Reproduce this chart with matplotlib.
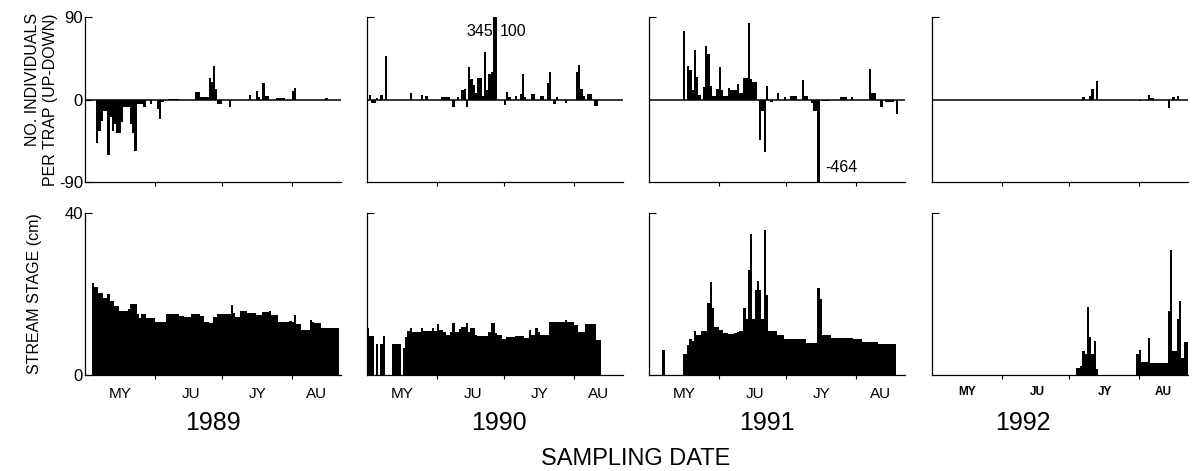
import numpy as np
import matplotlib
matplotlib.use("Agg")
import matplotlib.pyplot as plt

plt.rcParams['font.family'] = ['Liberation Sans', 'DejaVu Sans']
plt.rcParams['axes.unicode_minus'] = False

# --- x axis: days after 1 May ---
YEARS = ['1989', '1990', '1991', '1992']
MONTHS = ['MY', 'JU', 'JY', 'AU']
MONTH_STARTS = [31, 61, 92]          # 1 Jun, 1 Jul, 1 Aug
MONTH_MIDS = [15.5, 47, 77, 103]

# --- up-down trap counts (day, value); zero days left out ---
up89_days = [5, 6, 7, 8, 9, 10, 11, 12, 13, 14, 15, 16, 17, 18, 19, 20, 21, 22, 23, 24, 25, 26,
             29, 32, 33, 34, 37, 38, 39, 40, 41, 49, 50, 51, 52, 53, 54, 55, 56, 57, 58, 59, 60,
             64, 73, 76, 77, 79, 80, 81, 85, 86, 87, 88, 92, 93, 107]
up89_vals = [-47, -34, -23, -12, -12, -61, -19, -34, -27, -36, -36, -25, -8, -8, -8, -27, -36, -56, -5, -5, -5, -8,
             -5, -10, -21, -3, 1, 1, 1, 1, 1, 8, 8, 3, 3, 3, 3, 24, 19, 37, 11, -5, -5,
             -8, 5, 9, 3, 18, 4, 4, 2, 2, 2, 2, 9, 13, 2]

up90_days = [1, 2, 3, 4, 6, 8, 19, 24, 26, 33, 34, 35, 36, 38, 40, 42, 43, 44, 45, 46, 47, 48, 49, 50,
             51, 52, 53, 54, 55, 56, 57, 61, 62, 63, 66, 68, 69, 70, 73, 74, 77, 78, 80, 81, 83, 84,
             88, 93, 94, 95, 96, 98, 99, 101, 102]
up90_vals = [5, -4, -4, 2, 5, 48, 7, 5, 4, 3, 3, 3, 3, -8, 3, 10, 12, -8, 35, 22, 16, 7, 23, 23,
             4, 52, 10, 28, 30, 345, 100, -6, 8, 3, 4, 6, 28, 3, 6, 6, 4, 4, 18, 30, -5, 3,
             -4, 30, 38, 12, 4, 6, 6, -7, -7]

up91_days = [15, 17, 18, 19, 20, 21, 22, 24, 25, 26, 27, 28, 29, 30, 31, 32, 33, 34, 35, 36, 37, 38,
             39, 40, 41, 42, 43, 44, 45, 46, 47, 49, 50, 51, 52, 54, 57, 60, 63, 64, 65, 68, 69, 70,
             72, 73, 74, 75, 77, 78, 79, 85, 86, 87, 90, 98, 99, 100, 103, 105, 106, 107, 108, 110]
up91_vals = [75, 37, 32, 10, 54, 25, 5, 14, 58, 50, 15, 4, 4, 12, 35, 10, 4, 4, 13, 10, 10, 10,
             17, 7, 7, 23, 23, 84, 22, 19, 19, -44, -12, -57, 15, -3, 7, 3, 4, 4, 4, 21, 4, 4,
             -4, -12, -12, -464, -2, -2, -2, 3, 3, 3, 3, 33, 7, 7, -8, -3, -3, -3, -3, -16]

up92_days = [67, 70, 71, 73, 92, 96, 97, 98, 105, 107, 109]
up92_vals = [3, 4, 12, 20, -2, 5, 2, 2, -9, 3, 4]

# --- stream stage (cm), one value per day from the first day given ---
stage89_first = 3
stage89 = [22.6, 21.8, 21.8, 20.3, 20.3, 18.9, 18.9, 19.9, 18.3, 18.3,
           17.0, 17.0, 15.8, 15.8, 15.8, 15.8, 16.2, 17.5, 17.5, 17.5,
           15.0, 14.0, 15.0, 15.0, 14.0, 14.0, 14.0, 14.0, 13.0, 13.0,
           13.0, 13.0, 13.0, 15.0, 15.0, 15.0, 15.0, 15.0, 15.0, 14.6,
           14.6, 14.2, 14.2, 14.2, 15.0, 15.0, 15.0, 15.0, 14.6, 14.6,
           13.0, 13.0, 12.8, 12.8, 14.2, 14.2, 15.0, 15.0, 15.0, 15.0,
           15.0, 15.0, 17.4, 15.2, 14.2, 14.2, 15.8, 15.8, 15.8, 15.2,
           15.2, 15.2, 15.2, 14.8, 14.8, 14.8, 15.5, 15.5, 15.5, 15.8,
           14.8, 14.8, 14.8, 13.0, 13.0, 13.0, 13.0, 13.0, 13.3, 13.0,
           14.8, 12.5, 12.5, 11.2, 11.2, 11.2, 11.2, 13.6, 13.2, 12.8,
           12.8, 12.8, 11.7, 11.7, 11.7, 11.7, 11.7, 11.7, 11.7, 11.7]

stage90_first = 0
stage90 = [11.7, 9.6, 9.6, 0, 7.6, 0, 7.6, 9.6, 0, 0,
           0, 7.7, 7.7, 7.7, 7.7, 0, 6.7, 9.5, 10.9, 11.7,
           10.7, 10.7, 10.7, 10.7, 11.5, 10.9, 10.9, 10.9, 10.9, 11.7,
           10.9, 12.5, 11.1, 11.1, 10.7, 10.0, 10.0, 10.7, 12.8, 10.7,
           10.7, 11.3, 11.9, 11.9, 12.8, 10.7, 11.5, 11.5, 10.0, 9.7,
           9.7, 9.7, 9.7, 9.7, 10.7, 12.8, 12.8, 10.3, 9.9, 9.9,
           8.9, 8.9, 9.5, 9.5, 9.5, 9.5, 9.7, 9.7, 9.7, 9.7,
           9.1, 9.1, 11.1, 9.9, 9.9, 11.7, 10.7, 9.9, 9.9, 9.9,
           9.9, 13.0, 13.0, 13.0, 13.0, 13.0, 13.0, 13.0, 13.6, 13.2,
           13.2, 13.2, 12.3, 12.3, 10.7, 10.7, 10.7, 12.5, 12.5, 12.5,
           12.5, 12.5, 8.6, 8.6]

stage91_first = 0
stage91 = [0, 0, 0, 0, 0, 0, 6.2, 0, 0, 0,
           0, 0, 0, 0, 0, 5.1, 5.1, 7.4, 8.9, 8.4,
           10.9, 10.0, 10.0, 10.9, 10.9, 10.9, 17.9, 22.9, 16.6, 11.9,
           11.9, 11.1, 11.1, 10.3, 10.3, 10.2, 10.1, 10.2, 10.3, 10.5,
           10.9, 10.9, 16.5, 13.8, 25.9, 34.7, 13.8, 21.0, 23.2, 21.0,
           13.8, 35.8, 19.8, 10.9, 10.9, 10.9, 10.9, 9.9, 9.9, 9.9,
           8.9, 8.9, 8.9, 8.9, 8.9, 8.9, 8.9, 8.9, 8.9, 8.9,
           7.8, 7.8, 7.8, 7.8, 7.8, 21.4, 18.8, 9.9, 9.9, 9.9,
           9.9, 9.2, 9.2, 9.2, 9.2, 9.2, 9.2, 9.2, 9.2, 9.2,
           9.2, 8.8, 8.8, 8.8, 8.8, 8.2, 8.2, 8.2, 8.2, 8.2,
           8.2, 8.2, 7.7, 7.7, 7.7, 7.7, 7.7, 7.7, 7.7, 7.7]

stage92_first = 64
stage92 = [1.8, 1.8, 2.1, 5.9, 5.1, 16.9, 9.5, 5.1, 8.4, 1.5,
           0, 0, 0, 0, 0, 0, 0, 0, 0, 0, 0, 0, 0, 0, 0, 0, 0,
           5.1, 6.2, 3.1, 3.1, 3.1, 9.1, 2.9, 2.9, 2.9, 2.9,
           2.9, 2.9, 2.9, 2.9, 15.8, 30.9, 5.9, 5.9, 13.8, 18.3, 4.1, 8.2, 8.2]

up_days = [up89_days, up90_days, up91_days, up92_days]
up_vals = [up89_vals, up90_vals, up91_vals, up92_vals]
stages = [stage89, stage90, stage91, stage92]
stage_first = [stage89_first, stage90_first, stage91_first, stage92_first]

# --- layout in pixels of the 1196x471 picture ---
W, H = 1196, 471
LEFTS = [85, 367, 649, 932]
YEAR_X = [213, 499, 767, 1023]

fig = plt.figure(figsize=(W / 100, H / 100), dpi=100)


def add_px_axes(left, top, width, height):
    return fig.add_axes([left / W, 1 - (top + height) / H, width / W, height / H])


def base_style(ax):
    for s in ['top', 'right']:
        ax.spines[s].set_visible(False)
    for s in ['left', 'bottom']:
        ax.spines[s].set_linewidth(0.9)
    ax.set_xlim(0, 114)
    ax.set_xticks(MONTH_STARTS)
    ax.tick_params(axis='x', which='major', direction='out', length=3, width=0.8, labelbottom=False)
    ax.tick_params(axis='y', direction='in', length=5, width=0.8, pad=1.5, labelsize=12)


def black_bars(ax, x, y):
    bars = ax.bar(x, y, width=1.0, align='edge', color='black', linewidth=0)
    for b in bars:
        b.set_antialiased(False)


for i, year in enumerate(YEARS):
    # top row: up-down counts
    ax = add_px_axes(LEFTS[i], 17, 256, 165)
    base_style(ax)
    black_bars(ax, up_days[i], up_vals[i])
    ax.axhline(0, color='black', lw=1.1)
    ax.set_ylim(-90, 90)
    if i == 0:
        ax.set_yticks([-90, 0, 90])
        ax.set_ylabel('NO. INDIVIDUALS\nPER TRAP (UP-DOWN)', fontsize=11.5,
                      multialignment='right', linespacing=1.25)
        ax.yaxis.set_label_coords(-0.106, 0.5)
    else:
        ax.set_yticks([90])
        ax.tick_params(axis='y', labelleft=False)
    if year == '1990':
        ax.text(56, 74, '345', ha='right', va='center', fontsize=11.5)
        ax.text(59.3, 74, '100', ha='left', va='center', fontsize=11.5)
    if year == '1991':
        ax.text(78.5, -74.5, '-464', ha='left', va='center', fontsize=11.5)

    # bottom row: stream stage
    ax = add_px_axes(LEFTS[i], 213, 256, 162)
    base_style(ax)
    days = np.arange(stage_first[i], stage_first[i] + len(stages[i]))
    black_bars(ax, days, stages[i])
    ax.set_ylim(0, 40)
    if i == 0:
        ax.set_yticks([0, 40])
        ax.set_ylabel('STREAM STAGE (cm)', fontsize=11.5)
        ax.yaxis.set_label_coords(-0.168, 0.5)
    else:
        ax.set_yticks([40])
        ax.tick_params(axis='y', labelleft=False)
    ax.set_xticks(MONTH_MIDS, minor=True)
    if year == '1992':
        ax.set_xticklabels(MONTHS, minor=True, fontsize=8.5, fontweight='bold')
        ax.tick_params(axis='x', which='minor', length=0, pad=8)
    else:
        ax.set_xticklabels(MONTHS, minor=True, fontsize=11)
        ax.tick_params(axis='x', which='minor', length=0, pad=9)

    fig.text(YEAR_X[i] / W, 1 - 423 / H, year, ha='center', va='center', fontsize=18)

fig.text(636 / W, 1 - 459 / H, 'SAMPLING DATE', ha='center', va='center', fontsize=17)

fig.savefig('out.png', dpi=100)
